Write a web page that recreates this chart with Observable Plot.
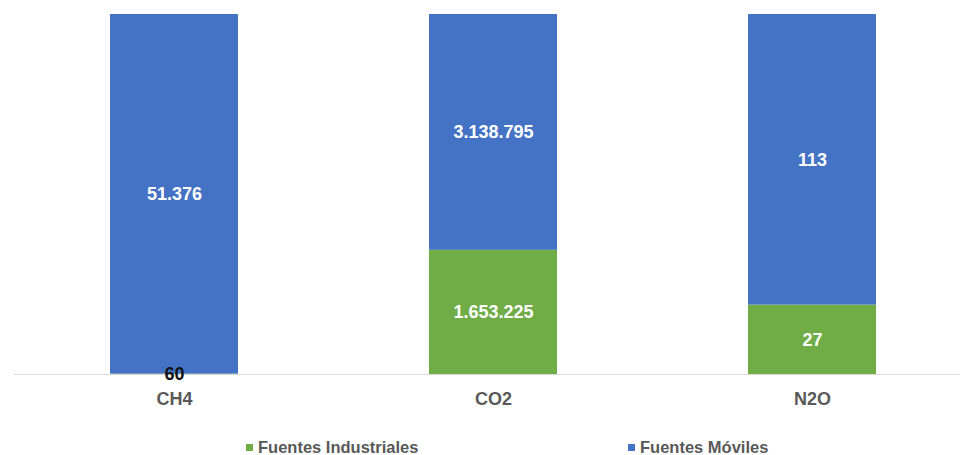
<!DOCTYPE html>
<html>
<head>
<meta charset="utf-8">
<script src="https://cdn.jsdelivr.net/npm/d3@7"></script>
<script src="https://cdn.jsdelivr.net/npm/@observablehq/plot@0.6"></script>
<style>
  html, body { margin: 0; padding: 0; background: #fff; overflow: hidden; }
  #wrap { position: relative; width: 960px; height: 455px; font-family: "Liberation Sans", Arial, sans-serif; }
  .leg { position: absolute; top: 440px; font-weight: bold; font-size: 16.5px; color: #595959; line-height: 14px; height: 14px; white-space: nowrap; }
  .leg i { display: inline-block; width: 7px; height: 7px; margin-right: 5px; vertical-align: 2px; }
</style>
</head>
<body>
<div id="wrap">
  <div id="chart"></div>
  <div id="legend"></div>
</div>
<script>
const categories = ["CH4", "CO2", "N2O"];
const seriesNames = ["Fuentes Industriales", "Fuentes Móviles"];
const industrial = [60, 1653225, 27];
const mobile = [51376, 3138795, 113];
const colors = ["#70AD47", "#4472C4"];

const locale = d3.formatLocale({decimal: ",", thousands: ".", grouping: [3], currency: ["", ""]});
const fmt = locale.format(",d");

const data = [];
categories.forEach((c, i) => {
  const total = industrial[i] + mobile[i];
  data.push({cat: c, series: seriesNames[0], value: industrial[i], share: industrial[i] / total});
  data.push({cat: c, series: seriesNames[1], value: mobile[i], share: mobile[i] / total});
});

const H = 430;
const chart = Plot.plot({
  width: 960,
  height: H,
  marginTop: 14,
  marginBottom: H - 374,
  marginLeft: 14,
  marginRight: 0,
  style: {fontFamily: "Liberation Sans, Arial, sans-serif", background: "#fff"},
  x: {domain: categories, range: [14, 972], paddingInner: 0.6, paddingOuter: 0.3, label: null},
  y: {axis: null, domain: [0, 1]},
  color: {domain: seriesNames, range: colors},
  marks: [
    Plot.ruleY([0], {stroke: "#d9d9d9", strokeWidth: 1}),
    Plot.barY(data, Plot.stackY({offset: "normalize", x: "cat", y: "value", fill: "series", order: seriesNames})),
    Plot.text(data, Plot.stackY({
      offset: "normalize", x: "cat", y: "value", z: "series", order: seriesNames,
      text: d => fmt(d.value),
      fill: d => d.share < 0.05 ? "#111" : "#ffffff",
      fontWeight: "bold", fontSize: 18
    })),
    Plot.axisX({tickSize: 0, tickPadding: 18, fontSize: 18, fontWeight: "bold", fill: "#595959", label: null})
  ]
});
document.getElementById("chart").appendChild(chart);

const legendEl = document.getElementById("legend");
const lefts = [246, 628];
seriesNames.forEach((s, i) => {
  const d = document.createElement("div");
  d.className = "leg";
  d.style.left = lefts[i] + "px";
  d.innerHTML = `<i style="background:${colors[i]}"></i>${s}`;
  legendEl.appendChild(d);
});
</script>
</body>
</html>
